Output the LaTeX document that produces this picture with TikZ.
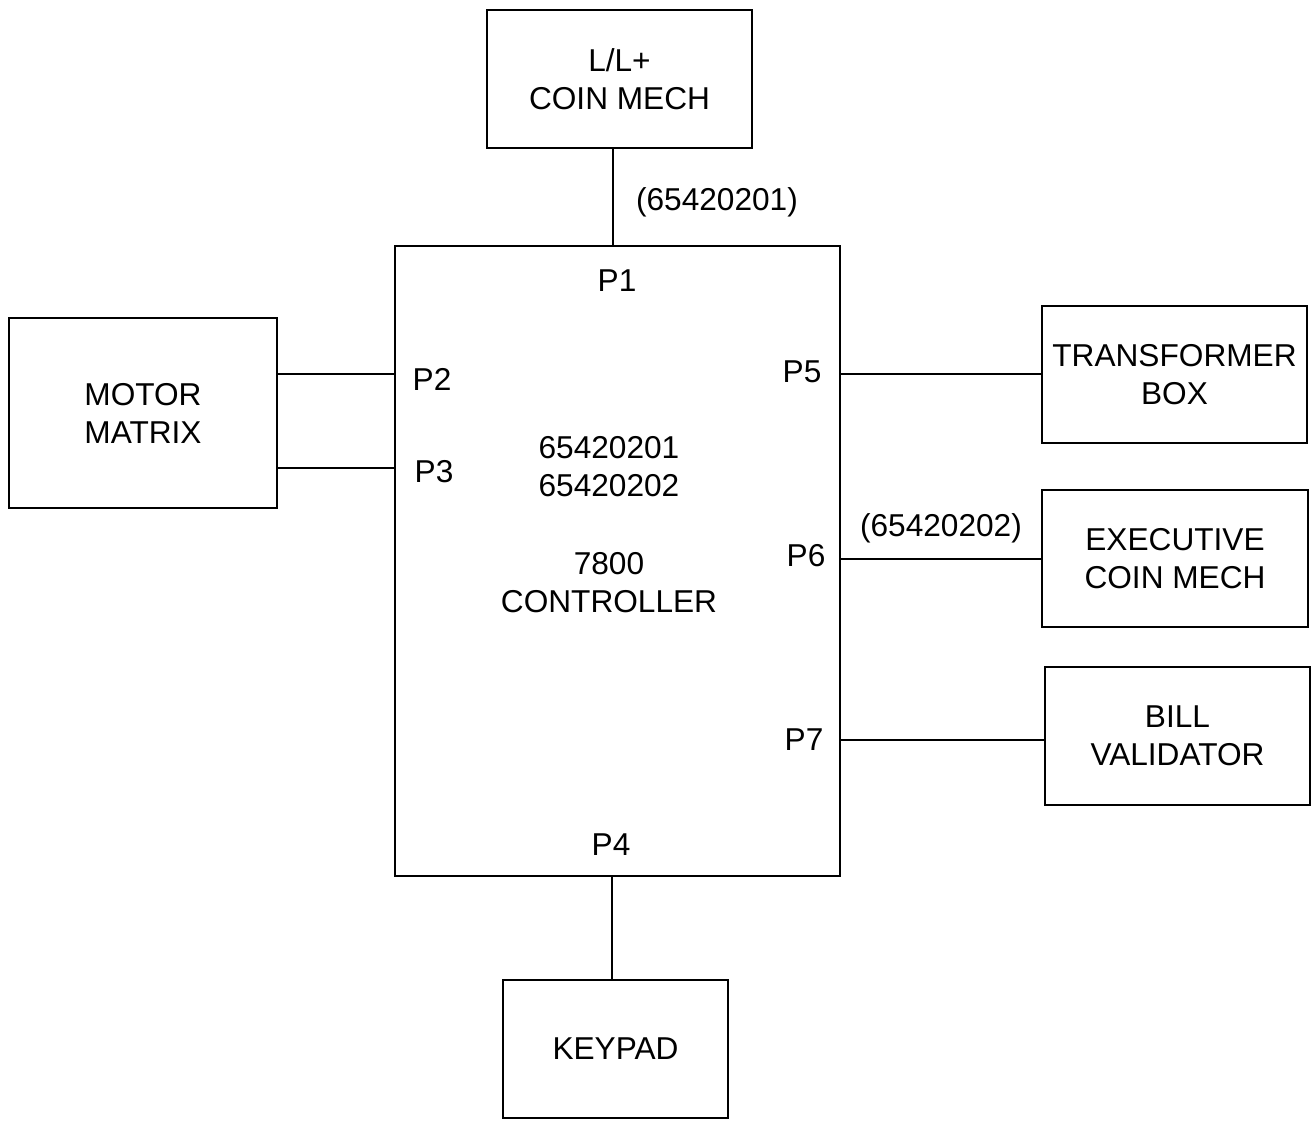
\documentclass[tikz,border=0pt]{standalone}
\usepackage{fontspec}
\setmainfont{Liberation Sans}
\begin{document}
\begin{tikzpicture}[x=0.02cm,y=-0.02cm,
    line width=1.6pt,
    every node/.style={font=\fontsize{18}{21.6}\selectfont, align=center},
    unit/.style={draw, line width=1.6pt, inner sep=0pt}
]
            \useasboundingbox (0,0) rectangle (1312,1121);
            % units
            \node[unit, minimum width=5.3cm, minimum height=2.76cm] (coin) at (619.5,79) {L/L+\\COIN MECH};
            \node[unit, minimum width=8.9cm, minimum height=12.6cm] (ctrl) at (617.5,561) {};
            \node[unit, minimum width=5.36cm, minimum height=3.8cm] (motor) at (143,413) {MOTOR\\MATRIX};
            \node[unit, minimum width=5.3cm, minimum height=2.74cm] (trans) at (1174.5,374.5) {TRANSFORMER\\BOX};
            \node[unit, minimum width=5.32cm, minimum height=2.74cm] (exec) at (1175,558.5) {EXECUTIVE\\COIN MECH};
            \node[unit, minimum width=5.3cm, minimum height=2.76cm] (bill) at (1177.5,736) {BILL\\VALIDATOR};
            \node[unit, minimum width=4.5cm, minimum height=2.76cm] (keypad) at (615.5,1049) {KEYPAD};
            % controller texts
            \node (parts) at (609,467) {65420201\\65420202};
            \node (name) at (609,583) {7800\\CONTROLLER};
            \node (p1) at (617,281) {P1};
            \node (p2) at (432,379) {P2};
            \node (p3) at (434,472) {P3};
            \node (p4) at (611,845) {P4};
            \node (p5) at (802,372) {P5};
            \node (p6) at (806,556) {P6};
            \node (p7) at (804,740) {P7};
            \node (harn1) at (717,202) {(65420201)};
            \node (harn2) at (941,528) {(65420202)};
            % harnesses
            \draw (613,0 |- coin.south) -- (613,0 |- ctrl.north);
            \draw (motor.east |- 0,374) -- (ctrl.west |- 0,374);
            \draw (motor.east |- 0,468) -- (ctrl.west |- 0,468);
            \draw (ctrl.east |- 0,374) -- (trans.west |- 0,374);
            \draw (ctrl.east |- 0,559) -- (exec.west |- 0,559);
            \draw (ctrl.east |- 0,740) -- (bill.west |- 0,740);
            \draw (612,0 |- ctrl.south) -- (612,0 |- keypad.north);
        \end{tikzpicture}
\end{document}
